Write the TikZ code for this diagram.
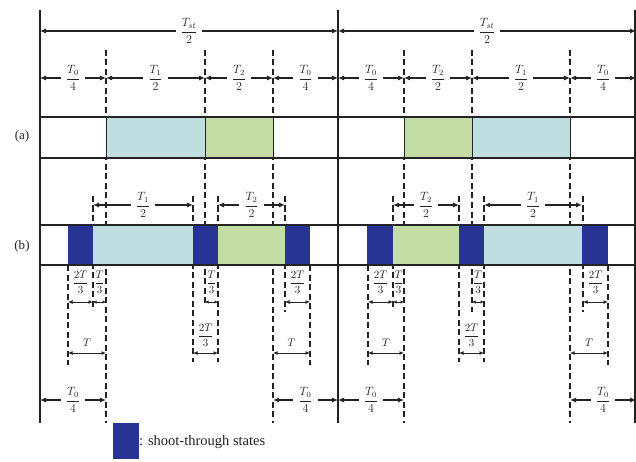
\documentclass[tikz,border=0pt]{standalone}
\usepackage{fontspec}
\setmainfont{Liberation Serif}
\usetikzlibrary{arrows.meta,calc}
\definecolor{lblue}{RGB}{192,222,226}
\definecolor{lgreen}{RGB}{196,221,164}
\definecolor{dblue}{RGB}{40,52,148}
\definecolor{ink}{RGB}{35,35,35}
\newcommand\dfr[2]{$\displaystyle\frac{#1}{#2}$}
% name, x1, x2, y, label, style  (label centred on the arrow, white backed)
\newcommand\dimarr[6]{%
  \coordinate (#1l) at (#2,#4); \coordinate (#1r) at (#3,#4);
  \draw[#6] (#1l) -- (#1r);
  \node[lab] (#1t) at ($(#1l)!0.5!(#1r)$) {#5};}
% name, x1, x2, yarrow, ylabel, label, style (label above the arrow)
\newcommand\dimlow[7]{%
  \coordinate (#1l) at (#2,#4); \coordinate (#1r) at (#3,#4);
  \draw[#7] (#1l) -- (#1r);
  \node[lowlab] (#1t) at ({(#2+#3)/2},#5) {#6};}
\tikzset{
  solidln/.style={line width=1.3pt, draw=ink},
  dashln/.style={line width=1.1pt, draw=ink, dash pattern=on 6pt off 3.5pt},
  dim/.style={line width=1.1pt, draw=ink, {Latex[length=6pt,width=5pt]}-{Latex[length=6pt,width=5pt]}},
  dimm/.style={line width=1pt, draw=ink, {Latex[length=4.5pt,width=4pt]}-{Latex[length=4.5pt,width=4pt]}},
  dims/.style={line width=0.9pt, draw=ink, {Latex[length=3.5pt,width=3.5pt]}-{Latex[length=3.5pt,width=3.5pt]}},
  lab/.style={fill=white, inner xsep=5pt, inner ysep=0pt, text=ink, font=\fontsize{12}{14}\selectfont},
  lowlab/.style={inner sep=0pt, text=ink, font=\fontsize{11}{13}\selectfont},
  boxa/.style={draw=ink, line width=1pt},
  tag/.style={inner sep=0pt, text=ink, font=\fontsize{13}{15}\selectfont},
}
\begin{document}
\begin{tikzpicture}[x=1pt,y=-1pt]
\fill[white] (0,0) rectangle (636,462);
\useasboundingbox (0,0) rectangle (636,462);
% dashed guide lines
\foreach \x/\ya/\yb in {106/50/423, 273/50/423, 404/50/423, 570/50/423,
   205/50/305, 472/50/312,
   68/265/365, 93/196/310, 193/196/362, 218/196/362, 285/196/312, 310/265/365,
   368/265/365, 393/196/310, 459/196/362, 484/196/362, 583/196/312, 608/265/365}
  \draw[dashln] (\x,\ya) -- (\x,\yb);
% row (a) boxes
\fill[white] (40,117) rectangle (636,158);
\filldraw[boxa, fill=lblue] (106,117) rectangle (205,158);
\filldraw[boxa, fill=lgreen] (205,117) rectangle (273,158);
\filldraw[boxa, fill=lgreen] (404,117) rectangle (472,158);
\filldraw[boxa, fill=lblue] (472,117) rectangle (570,158);
% row (b) boxes
\fill[white] (40,225) rectangle (636,265);
\fill[dblue] (68,225) rectangle (93,265);
\fill[lblue] (93,225) rectangle (193,265);
\fill[dblue] (193,225) rectangle (218,265);
\fill[lgreen] (218,225) rectangle (285,265);
\fill[dblue] (285,225) rectangle (310,265);
\fill[dblue] (367,225) rectangle (393,265);
\fill[lgreen] (393,225) rectangle (459,265);
\fill[dblue] (459,225) rectangle (484,265);
\fill[lblue] (484,225) rectangle (582,265);
\fill[dblue] (582,225) rectangle (608,265);
% row borders
\foreach \y in {117,158,225,265} \draw[solidln] (40,\y) -- (636,\y);
% main verticals
\draw[solidln] (40,10) -- (40,423);
\draw[solidln] (338,10) -- (338,423);
\draw[solidln] (635,10) -- (635,423);
% row tags
\node[tag] (taga) at (22,136) {(a)};
\node[tag] (tagb) at (22,246) {(b)};
% top dimensions
\dimarr{h1}{40}{338}{31}{\dfr{T_{st}}{2}}{dim}
\dimarr{h2}{338}{636}{31}{\dfr{T_{st}}{2}}{dim}
\dimarr{s1}{40}{106}{78}{\dfr{T_0}{4}}{dim}
\dimarr{s2}{106}{205}{78}{\dfr{T_1}{2}}{dim}
\dimarr{s3}{205}{273}{78}{\dfr{T_2}{2}}{dim}
\dimarr{s4}{273}{338}{78}{\dfr{T_0}{4}}{dim}
\dimarr{s5}{338}{404}{78}{\dfr{T_0}{4}}{dim}
\dimarr{s6}{404}{472}{78}{\dfr{T_2}{2}}{dim}
\dimarr{s7}{472}{570}{78}{\dfr{T_1}{2}}{dim}
\dimarr{s8}{570}{636}{78}{\dfr{T_0}{4}}{dim}
% row (b) upper dimensions
\dimarr{b1}{93}{193}{205}{\dfr{T_1}{2}}{dim}
\dimarr{b2}{218}{285}{205}{\dfr{T_2}{2}}{dim}
\dimarr{b3}{393}{459}{205}{\dfr{T_2}{2}}{dim}
\dimarr{b4}{484}{582}{205}{\dfr{T_1}{2}}{dim}
% lower dimensions, first level
\dimlow{l1}{68}{93}{302}{282}{\dfr{2T}{3}}{dimm}
\dimlow{l2}{93}{106}{302}{282}{\dfr{T}{3}}{dims}
\dimlow{l3}{205}{218}{302}{282}{\dfr{T}{3}}{dims}
\dimlow{l4}{285}{310}{302}{282}{\dfr{2T}{3}}{dimm}
\dimlow{r1}{368}{393}{302}{282}{\dfr{2T}{3}}{dimm}
\dimlow{r2}{393}{404}{302}{282}{\dfr{T}{3}}{dims}
\dimlow{r3}{472}{484}{302}{282}{\dfr{T}{3}}{dims}
\dimlow{r4}{583}{608}{302}{282}{\dfr{2T}{3}}{dimm}
% lower dimensions, second level
\dimlow{m1}{68}{106}{353}{343}{$T$}{dimm}
\dimlow{m2}{193}{218}{353}{335}{\dfr{2T}{3}}{dimm}
\dimlow{m3}{273}{310}{353}{343}{$T$}{dimm}
\dimlow{n1}{368}{404}{353}{343}{$T$}{dimm}
\dimlow{n2}{459}{484}{353}{335}{\dfr{2T}{3}}{dimm}
\dimlow{n3}{570}{608}{353}{343}{$T$}{dimm}
% bottom dimensions
\dimarr{q1}{40}{106}{400}{\dfr{T_0}{4}}{dim}
\dimarr{q2}{273}{338}{400}{\dfr{T_0}{4}}{dim}
\dimarr{q3}{338}{404}{400}{\dfr{T_0}{4}}{dim}
\dimarr{q4}{570}{636}{400}{\dfr{T_0}{4}}{dim}
% legend
\fill[dblue] (113,423) rectangle (139,459);
\coordinate (legr) at (139,442);
\node[tag, anchor=west, font=\fontsize{14.5}{16}\selectfont] (legt) at (legr) {: shoot-through states};
\end{tikzpicture}
\end{document}
